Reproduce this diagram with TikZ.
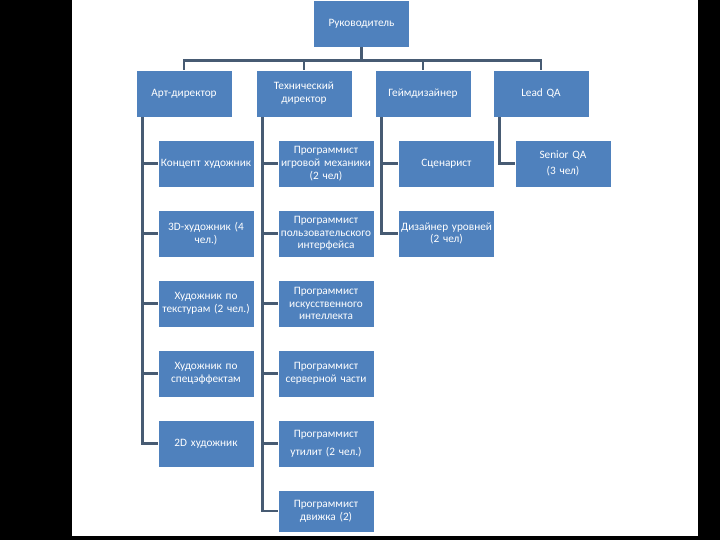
\documentclass[tikz,border=0pt]{standalone}
\usepackage{fontspec}
\setmainfont{Carlito}
\definecolor{boxblue}{HTML}{4F81BD}
\definecolor{linkgray}{HTML}{475B73}
\tikzset{
  orgbox/.style={draw=white,line width=0.6bp,fill=boxblue,text=white,
    minimum width=96bp,minimum height=47bp,text width=96bp,align=center,
    inner sep=0bp,font=\fontsize{11.3}{12.8}\selectfont},
  link/.style={draw=linkgray,line width=2.6bp}
}
\begin{document}
\begin{tikzpicture}[x=1bp,y=-1bp]
  % frame
  \fill[black] (0,0) rectangle (720,540);
  \fill[white] (72,0) rectangle (698,536);
  \useasboundingbox (0,0) rectangle (720,540);
  % top levels
  \node[orgbox] (boss) at (361.5,23.5) {Руководитель};
  \node[orgbox] (art) at (184,93.5) {Арт-директор};
  \node[orgbox] (tech) at (304,93.5) {Технический\\директор};
  \node[orgbox] (game) at (423,93.5) {Геймдизайнер};
  \node[orgbox] (qa) at (541,93.5) {Lead QA};
  % art column
  \node[orgbox] (art1) at (206,163.5) {Концепт художник};
  \node[orgbox] (art2) at (206,233.5) {3D-художник (4\\чел.)};
  \node[orgbox] (art3) at (206,303.5) {Художник по\\текстурам (2 чел.)};
  \node[orgbox] (art4) at (206,373.5) {Художник по\\спецэффектам};
  \node[orgbox] (art5) at (206,443.5) {2D художник};
  % tech column
  \node[orgbox] (tech1) at (326,163.5) {Программист\\игровой механики\\(2 чел)};
  \node[orgbox] (tech2) at (326,233.5) {Программист\\пользовательского\\интерфейса};
  \node[orgbox] (tech3) at (326,303.5) {Программист\\искусственного\\интеллекта};
  \node[orgbox] (tech4) at (326,373.5) {Программист\\серверной части};
  \node[orgbox] (tech5) at (326,443.5) {Программист\\[5bp]утилит (2 чел.)};
  \node[orgbox,minimum height=42bp] (tech6) at (326,511) {Программист\\движка (2)};
  % game design and qa
  \node[orgbox] (game1) at (446.5,163.5) {Сценарист};
  \node[orgbox] (game2) at (446.5,233.5) {Дизайнер уровней\\(2 чел)};
  \node[orgbox] (qa1) at (563,163.5) {Senior QA\\[3bp](3 чел)};
  % links
  \foreach \kid in {art,tech,game,qa}{
    \draw[link] (boss.south) -- ++(0,13) -| (\kid.north);
  }
  \foreach \kid in {art1,art2,art3,art4,art5}{
    \draw[link] ([xshift=7bp]art.south west) |- (\kid.west);
  }
  \foreach \kid in {tech1,tech2,tech3,tech4,tech5,tech6}{
    \draw[link] ([xshift=7bp]tech.south west) |- (\kid.west);
  }
  \foreach \kid in {game1,game2}{
    \draw[link] ([xshift=7bp]game.south west) |- (\kid.west);
  }
  \draw[link] ([xshift=7bp]qa.south west) |- (qa1.west);
\end{tikzpicture}
\end{document}
